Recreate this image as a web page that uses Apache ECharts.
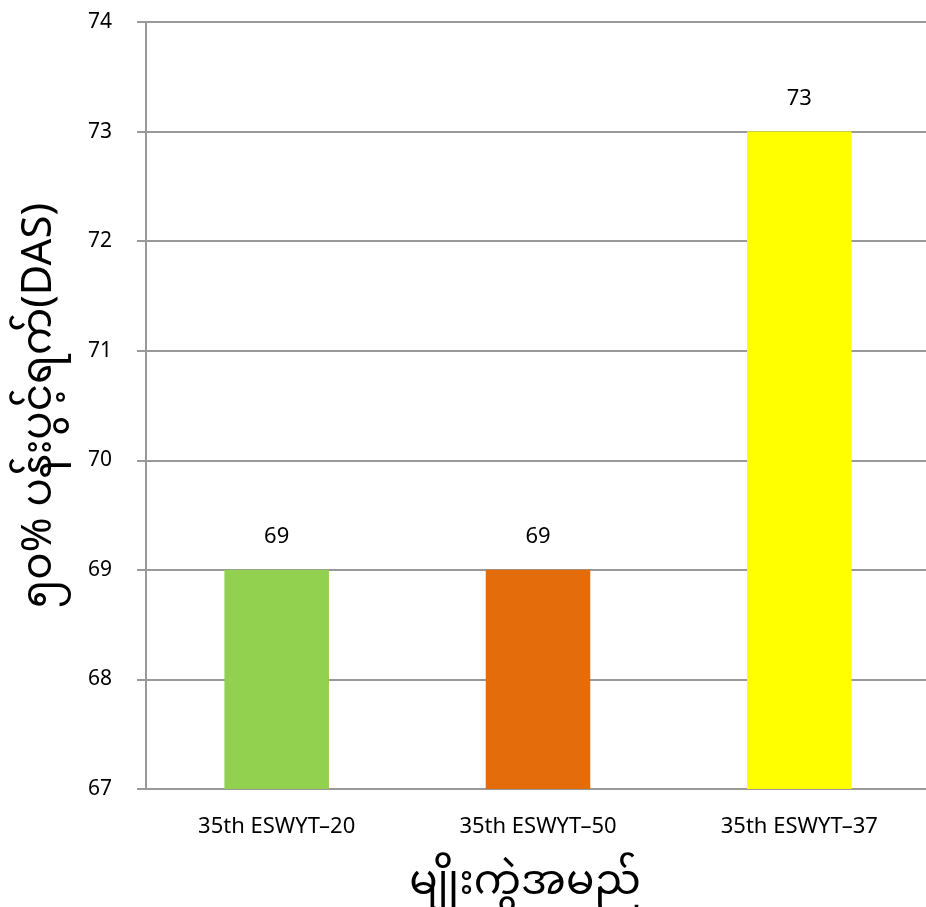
<!DOCTYPE html>
<html><head><meta charset="utf-8">
<script src="https://cdn.jsdelivr.net/npm/echarts@6/dist/echarts.min.js"></script>
<style>html,body{margin:0;padding:0;background:#fff}#c{width:926px;height:907px}</style>
</head><body><div id="c"></div>
<script>
const categories = ['35th ESWYT–20', '35th ESWYT–50', '35th ESWYT–37'];
const values = [69, 69, 73];
const barColors = ['#92D050', '#E46C0A', '#FFFF00'];
const yTitle = '၅၀% ပန်းပွင့်ရက်(DAS)';
const xTitle = 'မျိုးကွဲအမည်';
const ff = '"Noto Sans", "Noto Sans Myanmar", "DejaVu Sans", sans-serif';
const chart = echarts.init(document.getElementById('c'));
chart.setOption({
  animation: false,
  grid: {left: 146, right: -4, top: 22, bottom: 118, containLabel: false, outerBoundsMode: 'none'},
  xAxis: {
    type: 'category', data: categories,
    axisLine: {lineStyle: {color: '#999', width: 2}},
    axisTick: {show: false},
    axisLabel: {color: '#000', fontSize: 22, fontFamily: ff, margin: 27},
    name: xTitle, nameLocation: 'middle', nameGap: 72,
    nameTextStyle: {color: '#000', fontSize: 42, fontFamily: ff, padding: [0, 26, 0, 0]}
  },
  yAxis: {
    type: 'value', min: 67, max: 74, interval: 1,
    axisLine: {show: true, lineStyle: {color: '#999', width: 2}},
    axisTick: {show: true, length: 9, lineStyle: {color: '#999', width: 2}},
    splitLine: {lineStyle: {color: '#999', width: 2}},
    axisLabel: {color: '#000', fontSize: 21, fontFamily: ff, margin: 34},
    name: yTitle, nameLocation: 'middle', nameGap: 86, nameRotate: 90,
    nameTextStyle: {color: '#000', fontSize: 42, fontFamily: ff}
  },
  series: [{
    type: 'bar', barWidth: '40%',
    data: values.map((v, i) => ({value: v, itemStyle: {color: barColors[i]}})),
    label: {show: true, position: 'top', distance: 22, color: '#000', fontSize: 22, fontFamily: ff}
  }]
});
</script></body></html>
